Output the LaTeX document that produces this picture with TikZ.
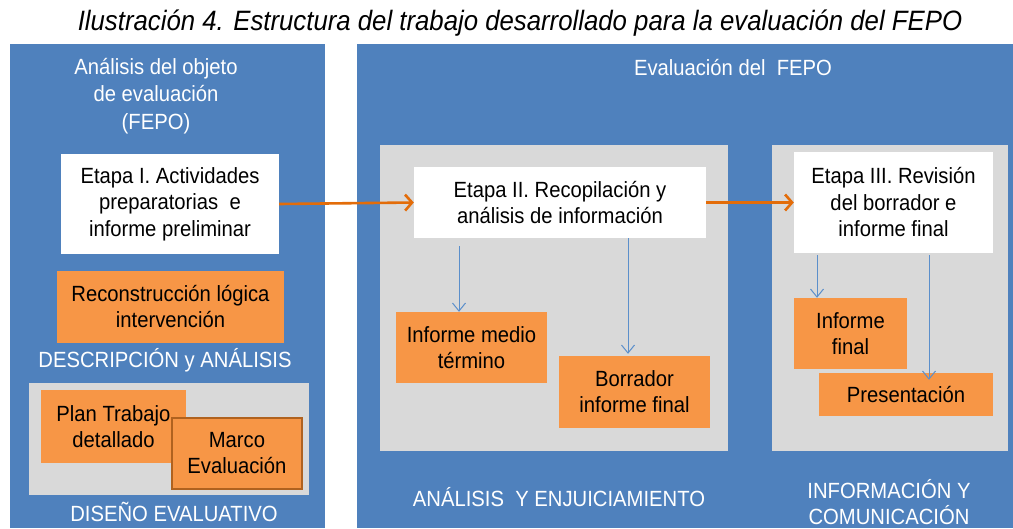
\documentclass[tikz,border=0pt]{standalone}
\usepackage{fontspec}
\setmainfont{Liberation Sans}[FakeStretch=0.92]
\usetikzlibrary{arrows.meta}
\definecolor{pblue}{HTML}{4F81BD}
\definecolor{pgray}{HTML}{D9D9D9}
\definecolor{porange}{HTML}{F79646}
\definecolor{parrow}{HTML}{E36C09}
\definecolor{pline}{HTML}{5B8FCB}
\definecolor{pborder}{HTML}{B0621F}
\tikzset{
  panel/.style={fill=pblue, draw=none},
  inner/.style={fill=pgray, draw=none},
  wbox/.style={fill=white, draw=none, inner sep=0pt, align=center, font=\fontsize{22}{26.5}\selectfont, text=black},
  obox/.style={fill=porange, draw=none, inner sep=0pt, align=center, font=\fontsize{22}{26}\selectfont, text=black},
  wlabel/.style={text=white, align=center, inner sep=0pt, font=\fontsize{22}{27.5}\selectfont},
  flow/.style={draw=parrow, line width=2.6pt, -{Straight Barb[length=7pt,width=16pt,line width=2.6pt]}},
  sub/.style={draw=pline, line width=1pt, -{Straight Barb[length=8pt,width=13pt,line width=1pt]}}
}
\begin{document}
\begin{tikzpicture}[x=1pt,y=-1pt]
\useasboundingbox (0,0) rectangle (1013,528);
\fill[white] (0,0) rectangle (1013,528);
% title
\node[inner sep=0pt, font=\fontsize{28}{32}\selectfont\itshape] (title) at (520,23) {Ilustración 4. Estructura del trabajo desarrollado para la evaluación del FEPO};
% panels
\fill[panel] (10,44) rectangle (325,528);
\fill[panel] (357,44) rectangle (1013,528);
\fill[inner] (380,145) rectangle (728,451);
\fill[inner] (772,145) rectangle (1008,451);
\fill[inner] (29,383) rectangle (309,495);
% labels
\node[wlabel] (l1) at (156,96) {Análisis del objeto\\de evaluación\\(FEPO)};
\node[wlabel] (l2) at (733,68) {Evaluación del\ \ FEPO};
\node[wlabel] (l3) at (165,360) {DESCRIPCIÓN y ANÁLISIS};
\node[wlabel] (l4) at (174,512) {DISEÑO EVALUATIVO};
\node[wlabel] (l5) at (559,497) {ANÁLISIS\ \ Y ENJUICIAMIENTO};
\node[wlabel, font=\fontsize{22}{26}\selectfont] (l6) at (889,502) {INFORMACIÓN Y\\COMUNICACIÓN};
% boxes
\node[wbox, minimum width=218pt, minimum height=100pt] (e1) at (170,204) {Etapa I. Actividades\\preparatorias\ \ e\\informe preliminar};
\node[wbox, minimum width=292pt, minimum height=71pt] (e2) at (560,202.5) {Etapa II. Recopilación y\\análisis de información};
\node[wbox, minimum width=199pt, minimum height=101pt] (e3) at (893.5,202.5) {Etapa III. Revisión\\del borrador e\\informe final};
\node[obox, minimum width=227pt, minimum height=72pt] (rec) at (170.5,307) {Reconstrucción lógica\\intervención};
\node[obox, minimum width=145pt, minimum height=73pt] (plan) at (113.5,426.5) {Plan Trabajo\\detallado};
\node[obox, draw=pborder, line width=1.2pt, minimum width=130pt, minimum height=71pt] (marco) at (237,453.5) {Marco\\Evaluación};
\node[obox, minimum width=151pt, minimum height=71pt] (imt) at (471.5,347.5) {Informe medio\\término};
\node[obox, minimum width=151pt, minimum height=72pt] (bor) at (634.5,392) {Borrador\\informe final};
\node[obox, minimum width=113pt, minimum height=71pt] (inf) at (850.5,333.5) {Informe\\final};
\node[obox, minimum width=174pt, minimum height=43pt] (pre) at (906,394.5) {Presentación};
% flow arrows
\draw[flow] (e1.east) -- (e2.west);
\draw[flow] (e2.east) -- (e3.west);
% sub arrows
\coordinate (s1) at (459,246);
\coordinate (s2) at (628,238);
\coordinate (s3) at (817,255);
\coordinate (s4) at (929,255);
\draw[sub] (s1) -- (s1 |- imt.north);
\draw[sub] (s2) -- ([yshift=2pt]s2 |- bor.north);
\draw[sub] (s3) -- (s3 |- inf.north);
\draw[sub] (s4) -- ([yshift=-7pt]s4 |- pre.north);
\end{tikzpicture}
\end{document}
